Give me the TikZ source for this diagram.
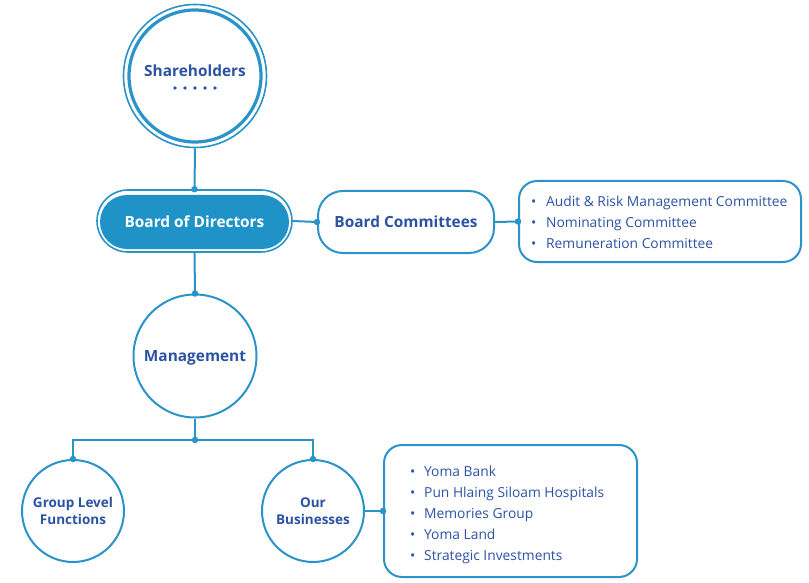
\documentclass[tikz,border=0pt]{standalone}
\usepackage{fontspec}
\setmainfont{Open Sans}
\definecolor{lineblue}{HTML}{2A93C9}
\definecolor{fillblue}{HTML}{1F93C8}
\definecolor{textblue}{HTML}{2B53A4}
\begin{document}
\begin{tikzpicture}[x=1pt,y=-1pt,
  conn/.style={draw=lineblue,line width=2pt},
  jdot/.style={fill=lineblue,circle,inner sep=0pt,minimum size=6.5pt},
  circ/.style={draw=lineblue,line width=2pt,circle,fill=white,text=textblue,align=center,inner sep=0pt},
  rbox/.style={draw=lineblue,line width=2pt,rectangle,fill=white,inner sep=0pt},
  headfont/.style={font=\fontsize{15.4}{18}\selectfont\bfseries},
  smalltxt/.style={font=\fontsize{13.5}{16.5}\selectfont\bfseries,text=textblue,align=center},
  listtxt/.style={font=\fontsize{13.8}{20.8}\selectfont,text=textblue,align=left,inner sep=0pt,anchor=west},
]
\useasboundingbox (0,0) rectangle (809,583);

% Shareholders
\node[circ,line width=1.6pt,minimum size=143pt] (shout) at (195,76) {};
\node[circ,line width=3.2pt,minimum size=132pt] (sh) at (195,76) {};
\node[headfont,text=textblue] (shtxt) at (195,71) {Shareholders};
\foreach \i in {-2,...,2} \fill[textblue] (195+\i*10,88) circle (1.8pt);

% Board of Directors
\node[rbox,line width=1.6pt,minimum width=195pt,minimum height=62pt,rounded corners=31pt] (bdout) at (194.5,221) {};
\node[rectangle,fill=fillblue,minimum width=189pt,minimum height=54pt,rounded corners=27pt,inner sep=0pt,
  headfont,text=white] (bd) at (194.5,222) {Board of Directors};

% Board Committees
\node[rbox,minimum width=176pt,minimum height=62pt,rounded corners=25pt,
  headfont,text=textblue] (bc) at (406,222) {Board Committees};

% Committee list
\node[rbox,minimum width=282pt,minimum height=81pt,rounded corners=18pt] (cl) at (660,221.5) {};
\node[listtxt] (cltxt) at (531,222.5) {\makebox[15pt][l]{•}Audit \& Risk Management Committee\\
\makebox[15pt][l]{•}Nominating Committee\\
\makebox[15pt][l]{•}Remuneration Committee};

% Management
\node[circ,minimum size=123pt] (mg) at (195,356) {};
\node[headfont,text=textblue] (mgtxt) at (195,357.5) {Management};

% Lower circles
\coordinate (split) at (195,440);
\node[circ,minimum size=102pt,smalltxt] (glf) at (73,511) {Group Level\\Functions};
\node[circ,minimum size=102pt,smalltxt] (ob) at (313,511) {Our\\Businesses};

% Businesses list
\node[rbox,minimum width=253pt,minimum height=132pt,rounded corners=18pt] (bl) at (510.5,511) {};
\node[listtxt] (bltxt) at (410,515) {\makebox[14pt][l]{•}Yoma Bank\\
\makebox[14pt][l]{•}Pun Hlaing Siloam Hospitals\\
\makebox[14pt][l]{•}Memories Group\\
\makebox[14pt][l]{•}Yoma Land\\
\makebox[14pt][l]{•}Strategic Investments};

% Connectors
\draw[conn] (shout.south) -- (bdout.north);
\node[jdot] at (bdout.north) {};
\draw[conn] (bdout.east) -- (bc.west);
\node[jdot] at (bc.west) {};
\draw[conn] (bc.east) -- (cl.west);
\node[jdot] at (cl.west) {};
\draw[conn] (bdout.south) -- (mg.north);
\node[jdot] at (mg.north) {};
\draw[conn] (mg.south) -- (split);
\draw[conn] (glf.north) |- (split) -| (ob.north);
\node[jdot] at (split) {};
\node[jdot] at (glf.north) {};
\node[jdot] at (ob.north) {};
\draw[conn] (ob.east) -- (bl.west);
\node[jdot] at (bl.west) {};
\end{tikzpicture}
\end{document}
